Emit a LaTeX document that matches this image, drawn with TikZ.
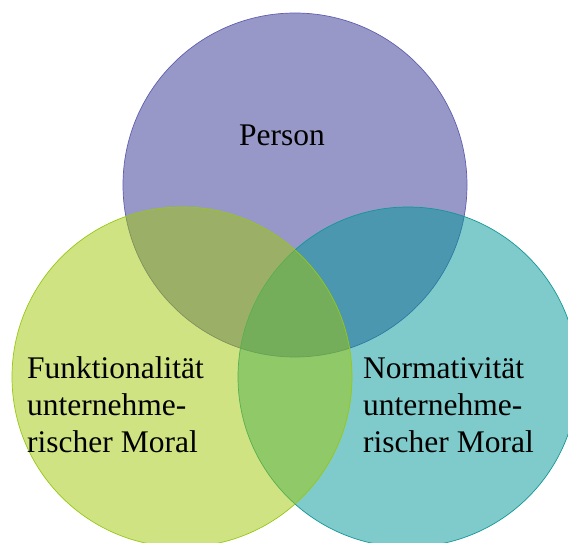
\documentclass[tikz,border=0pt]{standalone}
\usepackage{fontspec}
\setmainfont{Liberation Serif}
\definecolor{pcol}{RGB}{49,49,145}
\definecolor{rcol}{RGB}{0,151,151}
\definecolor{lcol}{RGB}{159,199,7}
\definecolor{pline}{RGB}{95,95,175}
\definecolor{rline}{RGB}{20,150,150}
\definecolor{lline}{RGB}{150,200,20}
\begin{document}
\begin{tikzpicture}[x=1pt,y=-1pt,
  venn/.style={circle,inner sep=0pt,minimum size=#1,fill opacity=0.5,line width=0.7pt},
  lbl/.style={font=\fontsize{31.5}{37}\selectfont,align=left,inner sep=0pt,text=black}]
\useasboundingbox (0,0) rectangle (568,543);
\node[venn=344pt,fill=pcol,draw=pline] (person) at (295,185) {};
\node[venn=340pt,fill=rcol,draw=rline] (norm) at (408,377) {};
\node[venn=340pt,fill=lcol,draw=lline] (funk) at (182,377) {};
\node[lbl,anchor=base] (tp) at (282,145) {Person};
\node[lbl,anchor=base west] (tf) at (27,452) {Funktionalität\\unternehme-\\rischer Moral};
\node[lbl,anchor=base west] (tn) at (363,452) {Normativität\\unternehme-\\rischer Moral};
\end{tikzpicture}
\end{document}
